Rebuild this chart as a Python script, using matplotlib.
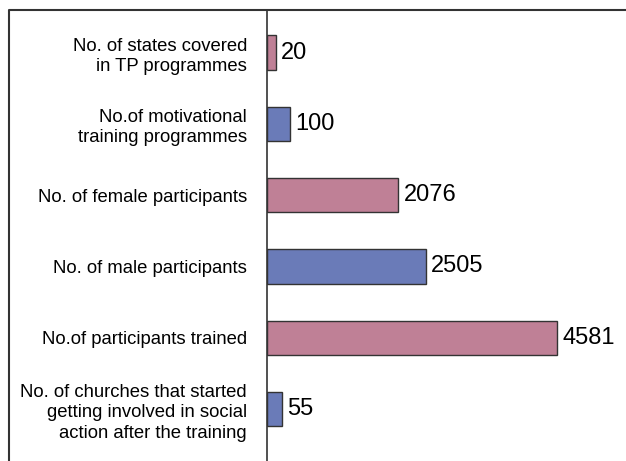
import matplotlib
matplotlib.use("Agg")
import matplotlib.pyplot as plt
from matplotlib.lines import Line2D

# Datos de la grafica (de arriba hacia abajo)
categories = [
    "No. of states covered\nin TP programmes",
    "No.of motivational\ntraining programmes",
    "No. of female participants",
    "No. of male participants",
    "No.of participants trained",
    "No. of churches that started\ngetting involved in social\naction after the training",
]
values = [20, 100, 2076, 2505, 4581, 55]
# En el original las barras pequeñas no estan a escala: longitudes
bar_lengths = [145, 370, 2076, 2505, 4581, 240]
pink = "#BF8096"
blue = "#6A7BB8"
bar_colors = [pink, blue, pink, blue, pink, blue]

plt.rcParams["font.family"] = ["Liberation Sans", "DejaVu Sans"]

W, H = 626, 461
fig = plt.figure(figsize=(W / 100, H / 100), dpi=100)

x0 = 266.5
top = 10
ax = fig.add_axes([x0 / W, -0.05, 1 - x0 / W, 1 - top / H + 0.05])

pos = list(range(len(categories)))
ax.barh(pos, bar_lengths, height=0.477, color=bar_colors,
        edgecolor="#333333", linewidth=1)

# Etiquetas con los valores
for p, L, v in zip(pos, bar_lengths, values):
    ax.annotate(str(v), (L, p), xytext=(4, 0), textcoords="offset points",
                va="center", ha="left", fontsize=17)

ax.set_xlim(0, (W - x0) / 0.06348)
ax.set_ylim(6.05, -0.596)
ax.set_yticks(pos)
ax.set_yticklabels(categories, fontsize=13.3, ha="right", linespacing=1.25)
ax.tick_params(axis="y", length=0, pad=14)
ax.set_xticks([])
for s in ["top", "right", "bottom"]:
    ax.spines[s].set_visible(False)
ax.spines["left"].set_color("#333333")
ax.spines["left"].set_linewidth(1.2)

# Marco exterior (solo se ven los bordes superior e izquierdo)
fx = 9 / W
fy = 1 - top / H
fig.add_artist(Line2D([fx, fx, 1], [0, fy, fy], transform=fig.transFigure,
                      color="#333333", linewidth=1.5))

fig.savefig("out.png", dpi=100)
